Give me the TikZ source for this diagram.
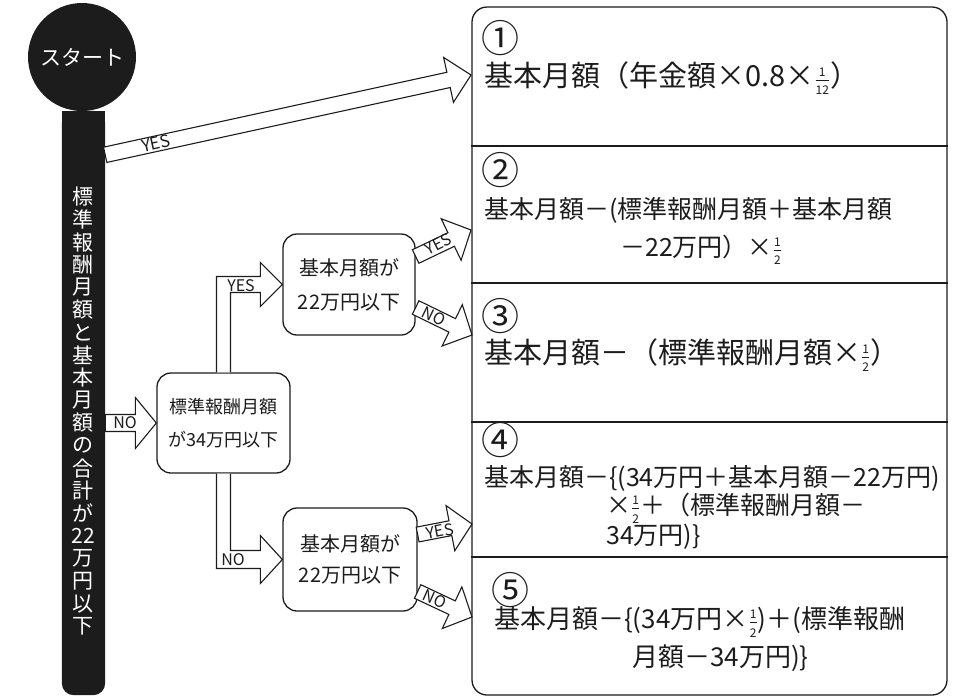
\documentclass[tikz,border=0pt]{standalone}
\usepackage{fontspec}
\setmainfont{Noto Sans CJK JP}
\usetikzlibrary{calc,positioning}

\definecolor{ink}{HTML}{1C1C1C}
\newcommand\fs[1]{\fontsize{#1}{#1}\selectfont}
\newcommand\frc[2]{$\frac{\hbox{\fs{12}#1}}{\hbox{\fs{12}#2}}$}

\tikzset{
  hollow arrow/.style n args={3}{draw=ink, line width=1.1pt, fill=white,
    to path={($(\tikztostart)!#1!90:(\tikztotarget)$)
      -- ($(\tikztotarget)!#3!(\tikztostart)!#1!-90:(\tikztostart)$)
      -- ($(\tikztotarget)!#3!(\tikztostart)!#2!-90:(\tikztostart)$)
      -- (\tikztotarget)
      -- ($(\tikztotarget)!#3!(\tikztostart)!#2!90:(\tikztostart)$)
      -- ($(\tikztotarget)!#3!(\tikztostart)!#1!90:(\tikztostart)$)
      -- ($(\tikztostart)!#1!-90:(\tikztotarget)$) -- cycle}},
  elbow/.style={draw=ink, line width=1.1pt, fill=white},
  question/.style={draw=ink, line width=1.3pt, rounded corners=14pt, fill=white,
    align=center, text=ink, inner sep=0pt},
  lab/.style={inner sep=0pt, text=ink, font=\fs{16}},
  vchar/.style={inner sep=0pt, text=white, font=\fs{21}},
  res/.style={anchor=west, inner sep=0pt, text=ink},
  num/.style={res, font=\fs{38}},
}

\begin{document}
\begin{tikzpicture}[x=1pt, y=-1pt]
  \useasboundingbox (0,0) rectangle (953,697);

  % start and the first condition
  \node[circle, fill=ink, minimum size=108pt, inner sep=0pt, text=white, font=\fs{21}]
    (st) at (82,57) {スタート};
  \node[inner sep=0pt, minimum width=43pt, minimum height=584pt] (cond) at (83.5,403) {};
  \fill[ink, rounded corners=12pt] (cond.south west) rectangle (cond.north east);
  \fill[ink] (cond.north west) rectangle ($(cond.north east)+(0,40)$);
  \foreach \ch [count=\i] in {標,準,報,酬,月,額,と,基,本,月,額,の,合,計,が,22,万,円,以,下}
    \node[vchar] (v\i) at (83,{197+22.6*(\i-1)}) {\ch};

  % questions
  \node[question, minimum width=133pt, minimum height=100pt, font=\fontsize{18}{33}\selectfont]
    (qa) at (223.5,423) {標準報酬月額\\が34万円以下};
  \node[question, minimum width=132pt, minimum height=101pt, font=\fontsize{20}{34}\selectfont]
    (qb) at (349,284.5) {基本月額が\\22万円以下};
  \node[question, minimum width=134pt, minimum height=103pt, font=\fontsize{20}{31}\selectfont]
    (qc) at (350,559.5) {基本月額が\\22万円以下};

  % results
  \node[draw=ink, line width=1.3pt, rounded corners=15pt, minimum width=475pt,
    minimum height=688pt, inner sep=0pt] (res) at (709.5,351) {};
  \foreach \y in {146,283,422,557}
    \draw[ink, line width=1.2pt] (res.west |- 0,\y) -- (res.east |- 0,\y);

  \node[num] (n1) at (481,38) {①};
  \node[res, font=\fs{29}] (l1) at (484,78) {基本月額（年金額×0.8×\frc{1}{12}）};
  \node[num] (n2) at (481,170) {②};
  \node[res, font=\fs{25}] (l2a) at (484,210) {基本月額－(標準報酬月額＋基本月額};
  \node[res, font=\fs{25}] (l2b) at (620,250) {－22万円）×\frc{1}{2}};
  \node[num] (n3) at (481,316) {③};
  \node[res, font=\fs{29}] (l3) at (484,355) {基本月額－（標準報酬月額×\frc{1}{2}）};
  \node[num] (n4) at (481,440) {④};
  \node[res, font=\fs{25}] (l4a) at (484,478) {基本月額－\{(34万円＋基本月額－22万円)};
  \node[res, font=\fs{25}] (l4b) at (606,508) {×\frc{1}{2}＋（標準報酬月額－};
  \node[res, font=\fs{25}] (l4c) at (606,537) {34万円)\}};
  \node[num] (n5) at (491,590) {⑤};
  \node[res, font=\fs{26}] (l5a) at (494,622) {基本月額－\{(34万円×\frc{1}{2})＋(標準報酬};
  \node[res, font=\fs{26}] (l5b) at (632,658) {月額－34万円)\}};

  \coordinate (t1) at (471,75);
  \coordinate (t2) at (471,230);
  \coordinate (t3) at (472,335);
  \coordinate (t4) at (472,524);
  \coordinate (t5) at (472,617);

  % connectors
  \draw[hollow arrow={7.8pt}{23pt}{23pt}] ($(cond.north east)+(0,44)$) to (t1);
  \draw[hollow arrow={8.5pt}{25.5pt}{21pt}] (cond.east |- qa.west) to (qa.west);
  \draw[elbow] ($(qa.north)+(-7,0)$) |- ($(qb.west)+(-22,-8)$) -- ++(0,-14) -- (qb.west)
    -- ++(-22,22) -- ++(0,-14) -| ($(qa.north)+(7,0)$);
  \draw[elbow] ($(qa.south)+(-7,0)$) |- ($(qc.west)+(-22,9)$) -- ++(0,15) -- (qc.west)
    -- ++(-22,-24) -- ++(0,15) -| ($(qa.south)+(7,0)$);
  \draw[hollow arrow={7.5pt}{23pt}{22pt}] ($(qb.east)+(0,-28)$) to (t2);
  \draw[hollow arrow={7.5pt}{23pt}{22pt}] ($(qb.east)+(0,23)$) to (t3);
  \draw[hollow arrow={7.5pt}{23pt}{22pt}] ($(qc.east)+(0,-25)$) to (t4);
  \draw[hollow arrow={7.5pt}{23pt}{22pt}] ($(qc.east)+(0,32)$) to (t5);

  % labels
  \node[lab, font=\fs{17}, rotate=12.5] (y0) at (156,143) {YES};
  \node[lab] (o0) at (125,423) {NO};
  \node[lab] (y1) at (241,286) {YES};
  \node[lab] (o1) at (233,560) {NO};
  \node[lab, rotate=27] (y2) at (438,244) {YES};
  \node[lab, rotate=-26] (o2) at (434,316) {NO};
  \node[lab, rotate=10.5] (y3) at (440,531) {YES};
  \node[lab, rotate=-24] (o3) at (435,599) {NO};
\end{tikzpicture}
\end{document}
